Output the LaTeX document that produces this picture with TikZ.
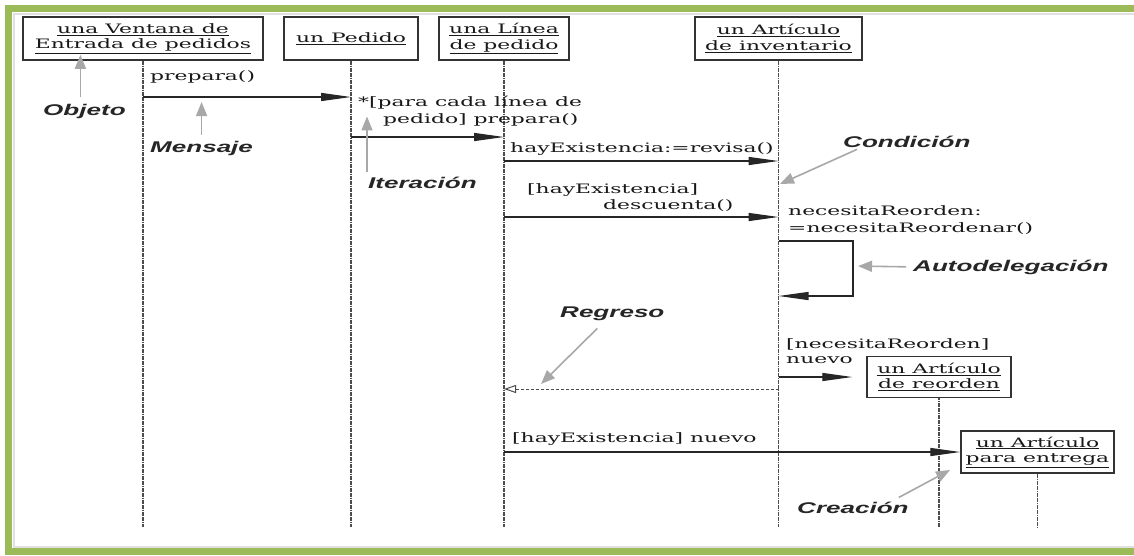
\documentclass[tikz,border=0pt]{standalone}
\usepackage{fontspec}
\setmainfont{DejaVu Serif}[FakeStretch=1.68]
\newfontfamily\notefont{Liberation Sans}[FakeStretch=1.68]
\usetikzlibrary{arrows.meta}
\definecolor{framegreen}{RGB}{155,187,89}
\definecolor{pointergray}{RGB}{168,168,168}

\begin{document}
\begin{tikzpicture}[x=1pt,y=-1pt,
  obj/.style={draw=black!80, line width=1.5pt, fill=white, inner sep=0pt,
    align=center, font=\fontsize{13}{15.5}\selectfont, text=black!90, minimum height=43pt},
  life/.style={draw=black!70, line width=1.5pt, dash pattern=on 1.8pt off 0.6pt},
  msg/.style={draw=black!85, line width=1.2pt, -{Triangle[length=30pt,width=8pt]}},
  ret/.style={draw=black!70, line width=1pt, dash pattern=on 3pt off 2pt,
    -{Triangle[open,length=12pt,width=8pt]}},
  lbl/.style={font=\fontsize{13}{15.5}\selectfont, inner sep=0pt, anchor=base west, text=black!90},
  note/.style={font={\notefont\bfseries\itshape\fontsize{15.5}{18}\selectfont},
    inner sep=0pt, anchor=base west, text=black!85},
  pointer/.style={draw=pointergray, line width=1.6pt,
    -{Triangle[length=14pt,width=11pt,fill=pointergray]}}
]
\useasboundingbox (0,0) rectangle (1134,555);
\fill[white] (0,0) rectangle (1134,555);

% frame
\draw[black!12, line width=2pt] (1134,13.5) -- (13.5,13.5) -- (13.5,546.5) -- (1134,546.5);
\draw[framegreen, line width=7pt, line join=miter] (1134,8.5) -- (8.5,8.5) -- (8.5,551.5) -- (1134,551.5);

% objects
\node[obj, minimum width=240pt] (b1) at (143,38.5) {\underline{una Ventana de}\\\underline{Entrada de pedidos}};
\node[obj, minimum width=134pt] (b2) at (351,38.5) {\underline{un Pedido}};
\node[obj, minimum width=130pt] (b3) at (504,38.5) {\underline{una Línea}\\\underline{de pedido}};
\node[obj, minimum width=167pt] (b4) at (778.5,38.5) {\underline{un Artículo}\\\underline{de inventario}};
\node[obj, minimum width=144pt, minimum height=41pt] (b5) at (939,377) {\underline{un Artículo}\\\underline{de reorden}};
\node[obj, minimum width=153pt, minimum height=42pt] (b6) at (1037.5,452) {\underline{un Artículo}\\\underline{para entrega}};

% lifelines
\foreach \b in {b1,b2,b3,b4,b5,b6}
  \draw[life] (\b.south) -- (\b.south |- 0,527);

% messages
\draw[msg] (b1 |- 0,97) -- (b2 |- 0,97);
\draw[msg] (b2 |- 0,137) -- (b3 |- 0,137);
\draw[msg] (b3 |- 0,161) -- (b4 |- 0,161);
\draw[msg] (b3 |- 0,217) -- (b4 |- 0,217);
\draw[msg] (b4 |- 0,241) -- (853,241) -- (853,296) -- (b4 |- 0,296);
\draw[ret] (b4 |- 0,389) -- (b3 |- 0,389);
\draw[msg, shorten >=14pt] (b4 |- 0,377) -- (b5.west);
\draw[msg] (b3 |- 0,452) -- (b6.west);

% message labels
\node[lbl] (l1) at (150,80) {prepara()};
\node[lbl] (l2a) at (358,106) {*[para cada línea de};
\node[lbl] (l2b) at (383,123) {pedido] prepara()};
\node[lbl] (l3) at (510,152) {hayExistencia:=revisa()};
\node[lbl] (l4a) at (527,193) {[hayExistencia]};
\node[lbl] (l4b) at (603,209) {descuenta()};
\node[lbl] (l5a) at (788,215) {necesitaReorden:};
\node[lbl] (l5b) at (788,232) {=necesitaReordenar()};
\node[lbl] (l6a) at (786,348) {[necesitaReorden]};
\node[lbl] (l6b) at (786,363) {nuevo};
\node[lbl] (l7) at (512,442) {[hayExistencia] nuevo};

% annotations
\node[note] (n1) at (43,115) {Objeto};
\node[note] (n2) at (150,152) {Mensaje};
\node[note] (n3) at (368,188) {Iteración};
\node[note] (n4) at (843,147) {Condición};
\node[note] (n5) at (913,271) {Autodelegación};
\node[note] (n6) at (560,317) {Regreso};
\node[note] (n7) at (797,513) {Creación};

\draw[pointer] ([shift={(-4,-7)}]n1.north) -- ([xshift=-4pt,yshift=6pt]n1.north |- b1.south);
\draw[pointer, shorten <=6pt, shorten >=5pt] (n2.north) -- (n2 |- 0,97);
\draw[pointer] ([shift={(-1,-4)}]n3.north west) -- ++(0,-56);
\draw[pointer] ([shift={(14,2)}]n4.south west) -- (780,184);
\draw[pointer, shorten <=7pt, shorten >=5pt] (n5.west) -- (853,266);
\draw[pointer] ([shift={(-15,8)}]n6.south) -- (541,384);
\draw[pointer] ([shift={(-10,-4)}]n7.north east) -- (950,470);
\end{tikzpicture}
\end{document}
